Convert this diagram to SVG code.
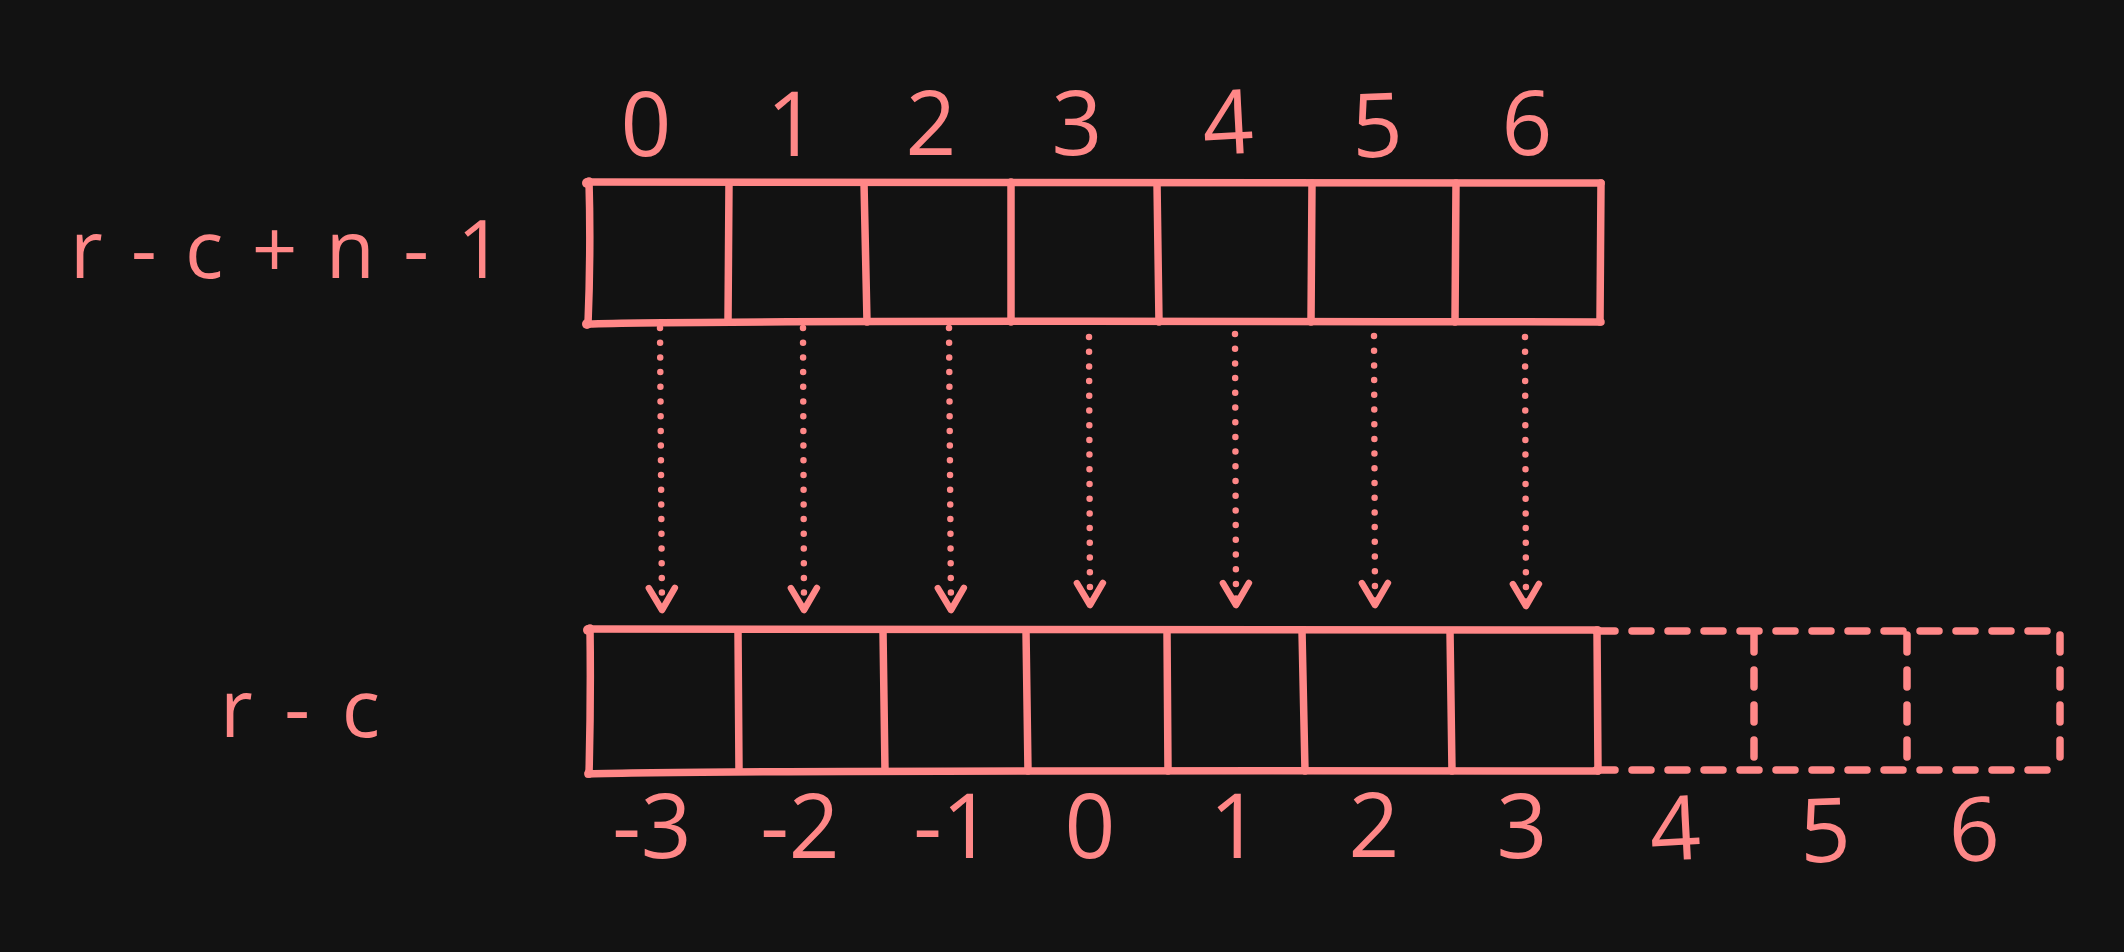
<svg xmlns="http://www.w3.org/2000/svg" width="2124" height="952" viewBox="0 0 2124 952">
  <style>
    .ln { fill: none; stroke: #ff8787; stroke-width: 7.5; stroke-linecap: round; stroke-linejoin: round; }
    .dash { fill: none; stroke: #ff8787; stroke-width: 7.5; stroke-linecap: round; stroke-dasharray: 19 17; }
    .vdash { fill: none; stroke: #ff8787; stroke-width: 7.5; stroke-linecap: round; stroke-dasharray: 17 18; }
    .dot { fill: none; stroke: #ff8787; stroke-width: 6.5; stroke-linecap: round; stroke-dasharray: 0 14.7; }
    .blob { fill: #ff8787; }
    .num { fill: #ff8787; font-family: "Open Sans", "Noto Sans", "DejaVu Sans", sans-serif; font-size: 89px; text-anchor: middle; }
    .lbl { fill: #ff8787; font-family: "Open Sans", "Noto Sans", "DejaVu Sans", sans-serif; font-size: 80px; }
  </style>
  <defs>
    <marker id="ah" viewBox="-30 -20 40 40" refX="0" refY="0" markerWidth="40" markerHeight="40" markerUnits="userSpaceOnUse" orient="auto">
      <path d="M-22,-13 L0,0 L-22,13" fill="none" stroke="#ff8787" stroke-width="6.5" stroke-linecap="round" stroke-linejoin="round"/>
    </marker>
  </defs>
  <rect width="2124" height="952" fill="#121212"/>

  <g id="label-top">
    <text class="lbl" x="70" y="278" textLength="433" lengthAdjust="spacing">r - c + n - 1</text>
  </g>
  <g id="label-bottom">
    <text class="lbl" x="220" y="737" textLength="160" lengthAdjust="spacing">r - c</text>
  </g>

  <g id="top-indices">
    <text class="num" x="646" y="156">0</text>
    <text class="num" x="792" y="156">1</text>
    <text class="num" x="931" y="155">2</text>
    <text class="num" x="1077" y="155">3</text>
    <text class="num" x="1228" y="154" transform="rotate(-3 1228 125)">4</text>
    <text class="num" x="1377" y="157" transform="rotate(-2 1377 125)">5</text>
    <text class="num" x="1527" y="155">6</text>
  </g>

  <g id="top-array">
    <path class="ln" d="M588,182 Q1000,181 1601,183"/>
    <path class="ln" d="M589,181 Q591,250 588,324"/>
    <path class="ln" d="M587,324 Q700,320 1601,322"/>
    <path class="ln" d="M1601,183 L1600,322"/>
    <circle class="blob" cx="587" cy="183" r="5"/>
    <circle class="blob" cx="587" cy="324" r="5"/>
    <path class="ln" d="M729,183 L728,322"/>
    <path class="ln" d="M864,183 L867,322"/>
    <path class="ln" d="M1011,182 L1011,322"/>
    <path class="ln" d="M1157,183 L1159,322"/>
    <path class="ln" d="M1312,183 L1311,322"/>
    <path class="ln" d="M1456,183 L1455,322"/>
  </g>

  <g id="bottom-array">
    <path class="ln" d="M589,629 Q1000,629 1598,630"/>
    <path class="ln" d="M590,628 Q591,700 589,774"/>
    <path class="ln" d="M588,774 Q700,770 1598,771"/>
    <path class="ln" d="M1597,630 L1598,771"/>
    <circle class="blob" cx="588" cy="630" r="5"/>
    <circle class="blob" cx="589" cy="773" r="4.5"/>
    <path class="ln" d="M738,631 L739,771"/>
    <path class="ln" d="M883,631 L885,771"/>
    <path class="ln" d="M1026,631 L1028,771"/>
    <path class="ln" d="M1167,631 L1168,771"/>
    <path class="ln" d="M1302,631 L1305,771"/>
    <path class="ln" d="M1450,631 L1452,771"/>
  </g>

  <g id="bottom-array-extension">
    <path class="dash" d="M1596,631 L2050,631"/>
    <path class="dash" d="M1596,770 L2050,770"/>
    <path class="vdash" d="M2060,635 L2060,766"/>
    <path class="vdash" d="M1754,635 L1754,766"/>
    <path class="vdash" d="M1907,635 L1907,766"/>
  </g>

  <g id="bottom-indices">
    <text class="num" x="652" y="858">-3</text>
    <text class="num" x="800" y="858">-2</text>
    <text class="num" x="953" y="858">-1</text>
    <text class="num" x="1090" y="858">0</text>
    <text class="num" x="1235" y="858">1</text>
    <text class="num" x="1374" y="857">2</text>
    <text class="num" x="1522" y="858">3</text>
    <text class="num" x="1675" y="860" transform="rotate(-3 1675 828)">4</text>
    <text class="num" x="1825" y="862" transform="rotate(-2 1825 830)">5</text>
    <text class="num" x="1974" y="861" transform="rotate(-2 1974 830)">6</text>
  </g>

  <g id="connectors">
    <path class="dot" d="M660,328 L662,610" marker-end="url(#ah)"/>
    <path class="dot" d="M803,328 L804,610" marker-end="url(#ah)"/>
    <path class="dot" d="M949,328 L951,610" marker-end="url(#ah)"/>
    <path class="dot" d="M1089,337 L1090,605" marker-end="url(#ah)"/>
    <path class="dot" d="M1235,334 L1236,605" marker-end="url(#ah)"/>
    <path class="dot" d="M1374,336 L1375,605" marker-end="url(#ah)"/>
    <path class="dot" d="M1525,337 L1526,606" marker-end="url(#ah)"/>
  </g>
</svg>
